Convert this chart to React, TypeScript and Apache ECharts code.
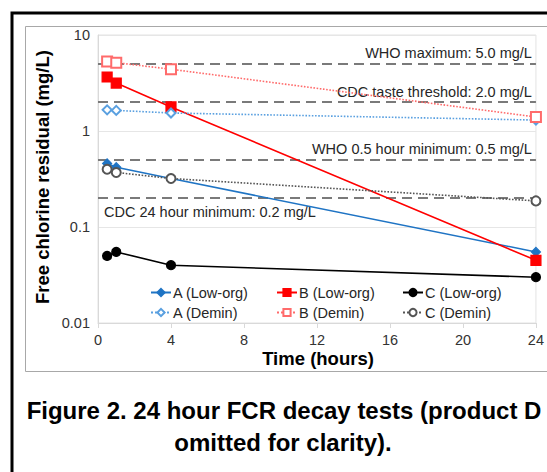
import React, { useEffect, useRef } from "react";
import * as echarts from "echarts";

const hours = [0.5, 1, 4, 24];
const aLowOrg = [0.46, 0.42, 0.32, 0.055];
const bLowOrg = [3.65, 3.16, 1.78, 0.045];
const cLowOrg = [0.05, 0.055, 0.04, 0.03];
const aDemin = [1.66, 1.64, 1.54, 1.3];
const bDemin = [5.3, 5.15, 4.4, 1.4];
const cDemin = [0.4, 0.37, 0.32, 0.187];

const refValues = [5.0, 2.0, 0.5, 0.2];
const refLabels = [
  "WHO maximum: 5.0 mg/L",
  "CDC taste threshold: 2.0 mg/L",
  "WHO 0.5 hour minimum: 0.5 mg/L",
  "CDC 24 hour minimum: 0.2 mg/L",
];

const seriesNames = ["A (Low-org)", "B (Low-org)", "C (Low-org)", "A (Demin)", "B (Demin)", "C (Demin)"];
const FONT = "'Liberation Sans', Arial, sans-serif";
const FS = 14.5;

export default function App() {
  const ref = useRef<HTMLDivElement>(null);
  useEffect(() => {
    if (!ref.current) return;
    const chart = echarts.init(ref.current, undefined, { renderer: "svg" });
    const pair = (ys: number[]) => hours.map((h, i) => [h, ys[i]]);
    const styles = [
      { data: aLowOrg, color: "#1f74c4", type: "solid", symbol: "diamond", size: 9 },
      { data: bLowOrg, color: "#ff0000", type: "solid", symbol: "rect", size: 10 },
      { data: cLowOrg, color: "#000000", type: "solid", symbol: "circle", size: 9 },
      { data: aDemin, color: "#5aa0e0", type: "dotted", symbol: "emptyDiamond", size: 9 },
      { data: bDemin, color: "#ff6b6b", type: "dotted", symbol: "emptyRect", size: 10 },
      { data: cDemin, color: "#555555", type: "dotted", symbol: "emptyCircle", size: 9 },
    ];
    const series: any[] = styles.map((s, i) => ({
      name: seriesNames[i],
      type: "line",
      data: pair(s.data),
      symbol: s.symbol,
      symbolSize: s.size,
      color: s.color,
      lineStyle: { color: s.color, width: 1.6, type: s.type },
      itemStyle: { color: s.color, borderColor: s.color, borderWidth: 1.2 },
      z: 5,
    }));
    series.push({
      type: "line",
      data: [],
      silent: true,
      markLine: {
        symbol: ["none", "none"],
        silent: true,
        lineStyle: { color: "#7a7a7a", width: 2, type: [10, 6] },
        data: refValues.map((v, i) => ({
          yAxis: v,
          label: {
            show: true,
            formatter: refLabels[i],
            position: i === 3 ? "insideStartBottom" : "insideEndTop",
            color: "#262626",
            fontSize: FS,
            fontFamily: FONT,
            distance: i === 3 ? [6, 6] : [4, 3],
          },
        })),
      },
    });
    const legendPos = [
      [150, 285], [276, 285], [402, 285],
      [150, 305], [276, 305], [402, 305],
    ];
    chart.setOption({
      animation: false,
      grid: { left: 98, right: 7, top: 35, bottom: 149, show: true, borderColor: "#e3e3e3", borderWidth: 1 },
      xAxis: {
        type: "value",
        min: 0,
        max: 24,
        interval: 4,
        axisLine: { show: true, lineStyle: { color: "#d9d9d9" } },
        axisTick: { show: true, length: 5, lineStyle: { color: "#d9d9d9" } },
        splitLine: { show: false },
        axisLabel: { color: "#333", fontSize: FS, fontFamily: FONT, margin: 9 },
      },
      yAxis: {
        type: "log",
        logBase: 10,
        min: 0.01,
        max: 10,
        axisLine: { show: true, lineStyle: { color: "#d9d9d9" } },
        axisTick: { show: false },
        splitLine: { show: true, lineStyle: { color: "#e6e6e6" } },
        axisLabel: { color: "#333", fontSize: FS, fontFamily: FONT, margin: 8 },
      },
      legend: legendPos.map((p, i) => ({
        data: [seriesNames[i]],
        left: p[0],
        top: p[1],
        itemWidth: 20,
        itemHeight: 9,
        itemGap: 0,
        padding: 0,
        textStyle: { color: "#262626", fontSize: FS, fontFamily: FONT, padding: [0, 0, 0, -3] },
      })),
      series,
      graphic: [
        { type: "rect", shape: { x: 12, y: 13, width: 600, height: 520 }, style: { fill: "none", stroke: "#000", lineWidth: 3 }, silent: true },
        { type: "rect", shape: { x: 25.5, y: 26.5, width: 600, height: 345 }, style: { fill: "none", stroke: "#a8a8a8", lineWidth: 1 }, silent: true },
        {
          type: "text",
          x: 42,
          y: 177,
          rotation: Math.PI / 2,
          style: { text: "Free chlorine residual (mg/L)", font: `bold 18.5px ${FONT}`, fill: "#000", textAlign: "center", textVerticalAlign: "middle" },
        },
        {
          type: "text",
          x: 318,
          y: 358,
          style: { text: "Time (hours)", font: `bold 18.5px ${FONT}`, fill: "#000", textAlign: "center", textVerticalAlign: "middle" },
        },
        {
          type: "text",
          x: 284,
          y: 410,
          style: { text: "Figure 2. 24 hour FCR decay tests (product D", font: `bold 24px ${FONT}`, fill: "#000", textAlign: "center", textVerticalAlign: "middle" },
        },
        {
          type: "text",
          x: 283,
          y: 442,
          style: { text: "omitted for clarity).", font: `bold 24px ${FONT}`, fill: "#000", textAlign: "center", textVerticalAlign: "middle" },
        },
      ],
    });
    return () => chart.dispose();
  }, []);
  return <div ref={ref} style={{ position: "absolute", left: 0, top: 0, width: 547, height: 472, background: "#fff" }} />;
}
